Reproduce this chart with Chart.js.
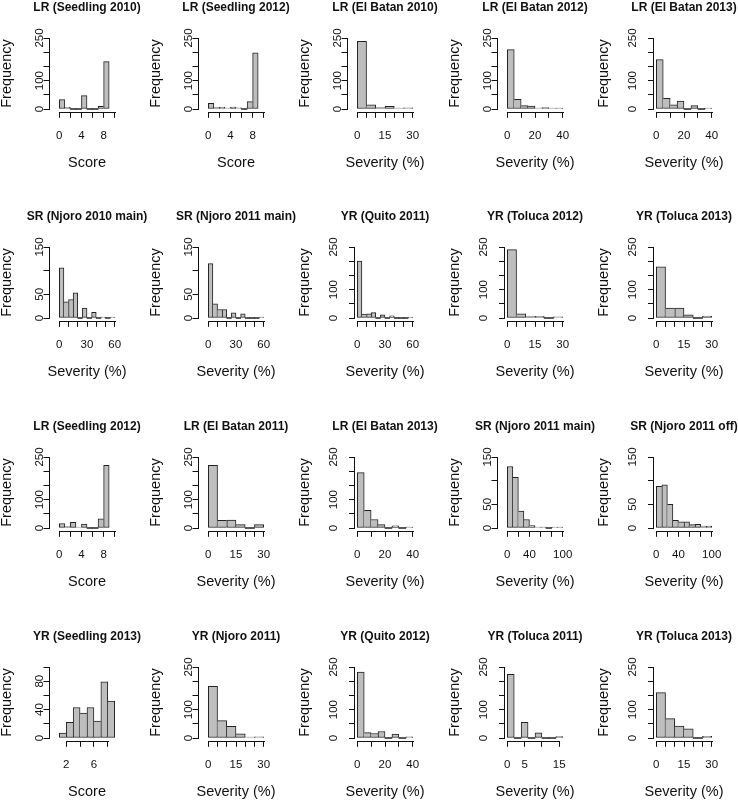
<!DOCTYPE html>
<html>
<head>
<meta charset="utf-8">
<title>Disease score histograms</title>
<script src="https://cdn.jsdelivr.net/npm/chart.js@4.4.1/dist/chart.umd.min.js"></script>
<style>
  html, body { margin: 0; padding: 0; background: #fff; overflow: hidden; }
  #grid { position: relative; width: 738px; height: 800px; overflow: hidden; }
  #grid canvas { position: absolute; }
</style>
</head>
<body>
<div id="grid"></div>
<script>
// counts per bin
const lrSeedling2010 = [33, 6, 0, 0, 47, 0, 0, 9, 167];
const lrSeedling2012a = [20, 6, 6, 3, 7, 4, 0, 26, 198];
const lrElBatan2010 = [238, 15, 5, 9, 2, 4];
const lrElBatan2012 = [209, 34, 12, 10, 1, 5, 1, 1];
const lrElBatan2013a = [174, 38, 15, 28, 0, 12, 0, 3];
const srNjoro2010Main = [106, 34, 39, 53, 0, 21, 0, 12, 0, 2, 0, 1];
const srNjoro2011MainA = [115, 30, 18, 18, 0, 11, 0, 9, 0, 0, 0, 2];
const yrQuito2011 = [200, 14, 15, 19, 0, 11, 0, 8, 0, 0, 0, 3];
const yrToluca2012 = [241, 15, 6, 6, 0, 4];
const yrToluca2013a = [180, 35, 35, 11, 0, 7];
const lrSeedling2012b = [16, 5, 20, 2, 14, 0, 0, 32, 221];
const lrElBatan2011 = [221, 27, 28, 12, 0, 12];
const lrElBatan2013b = [195, 62, 30, 12, 0, 8, 0, 3];
const srNjoro2011MainB = [130, 107, 36, 18, 5, 1, 1, 0, 1, 1];
const srNjoro2011Off = [88, 91, 50, 16, 13, 13, 7, 8, 4, 4];
const yrSeedling2013 = [7, 22, 43, 35, 43, 24, 79, 52];
const yrNjoro2011 = [182, 61, 41, 15, 1, 4];
const yrQuito2012 = [232, 19, 16, 23, 0, 14, 0, 4];
const yrToluca2011 = [224, 0, 55, 0, 18, 0, 0, 5];
const yrToluca2013b = [160, 68, 42, 32, 0, 6];

const titles = [
  'LR (Seedling 2010)', 'LR (Seedling 2012)', 'LR (El Batan 2010)', 'LR (El Batan 2012)', 'LR (El Batan 2013)',
  'SR (Njoro 2010 main)', 'SR (Njoro 2011 main)', 'YR (Quito 2011)', 'YR (Toluca 2012)', 'YR (Toluca 2013)',
  'LR (Seedling 2012)', 'LR (El Batan 2011)', 'LR (El Batan 2013)', 'SR (Njoro 2011 main)', 'SR (Njoro 2011 off)',
  'YR (Seedling 2013)', 'YR (Njoro 2011)', 'YR (Quito 2012)', 'YR (Toluca 2011)', 'YR (Toluca 2013)'
];
const counts = [
  lrSeedling2010, lrSeedling2012a, lrElBatan2010, lrElBatan2012, lrElBatan2013a,
  srNjoro2010Main, srNjoro2011MainA, yrQuito2011, yrToluca2012, yrToluca2013a,
  lrSeedling2012b, lrElBatan2011, lrElBatan2013b, srNjoro2011MainB, srNjoro2011Off,
  yrSeedling2013, yrNjoro2011, yrQuito2012, yrToluca2011, yrToluca2013b
];
const binStart = [0, 0, 0, 0, 0, 0, 0, 0, 0, 0, 0, 0, 0, 0, 0, 1, 0, 0, 0, 0];
const binWidth = [1, 1, 5, 5, 5, 5, 5, 5, 5, 5, 1, 5, 5, 10, 10, 1, 5, 5, 2, 5];
const xLow = [0, 0, 0, 0, 0, 0, 0, 0, 0, 0, 0, 0, 0, 0, 0, 1, 0, 0, 0, 0];
const xHigh = [10, 10, 30, 40, 40, 60, 60, 60, 30, 30, 10, 30, 40, 100, 100, 9, 30, 40, 16, 30];

// tick positions and the labels R kept
const scoreTicks = [0, 2, 4, 6, 8, 10];
const scoreLabels = [0, 4, 8];
const score13Ticks = [2, 4, 6, 8];
const score13Labels = [2, 6];
const sev30Ticks = [0, 5, 10, 15, 20, 25, 30];
const sev30Labels = [0, 15, 30];
const sev40Ticks = [0, 10, 20, 30, 40];
const sev40Labels = [0, 20, 40];
const sev60Ticks = [0, 10, 20, 30, 40, 50, 60];
const sev60Labels = [0, 30, 60];
const sev100Ticks = [0, 20, 40, 60, 80, 100];
const sev100Labels = [0, 40, 100];
const sev16Ticks = [0, 5, 10, 15];
const sev16Labels = [0, 5, 15];
const freq250Ticks = [0, 50, 100, 150, 200, 250];
const freq250Labels = [0, 100, 250];
const freq150Ticks = [0, 50, 100, 150];
const freq150Labels = [0, 50, 150];
const freq100Ticks = [0, 20, 40, 60, 80, 100];
const freq100Labels = [0, 40, 80];

const xTickSets = [
  scoreTicks, scoreTicks, sev30Ticks, sev40Ticks, sev40Ticks,
  sev60Ticks, sev60Ticks, sev60Ticks, sev30Ticks, sev30Ticks,
  scoreTicks, sev30Ticks, sev40Ticks, sev100Ticks, sev100Ticks,
  score13Ticks, sev30Ticks, sev40Ticks, sev16Ticks, sev30Ticks
];
const xLabelSets = [
  scoreLabels, scoreLabels, sev30Labels, sev40Labels, sev40Labels,
  sev60Labels, sev60Labels, sev60Labels, sev30Labels, sev30Labels,
  scoreLabels, sev30Labels, sev40Labels, sev100Labels, sev100Labels,
  score13Labels, sev30Labels, sev40Labels, sev16Labels, sev30Labels
];
const yMax = [250, 250, 250, 250, 250, 150, 150, 250, 250, 250, 250, 250, 250, 150, 150, 100, 250, 250, 250, 250];
const yTickSets = yMax.map(m => m === 250 ? freq250Ticks : m === 150 ? freq150Ticks : freq100Ticks);
const yLabelSets = yMax.map(m => m === 250 ? freq250Labels : m === 150 ? freq150Labels : freq100Labels);
const xTitles = titles.map(t => t.includes('Seedling') ? 'Score' : 'Severity (%)');

// layout: where the y axis sits in each panel (1 = detached from the bars)
const axisGap = [1, 1, 1, 1, 0, 1, 1, 0, 0, 0, 1, 1, 0, 1, 0, 1, 1, 0, 0, 0];
const colLeft = [0, 149, 298, 448, 597];
const rowTop = [-7, 202, 412, 622];
const W = 174, H = 210;
const DATA_L = 59.3, DATA_R = 114.7, MID = 87;

const FONT = '"Liberation Sans", Arial, Helvetica, sans-serif';
Chart.defaults.font.family = FONT;
Chart.defaults.color = '#111';
Chart.defaults.animation = false;

// R style axes: lines only between first and last tick, rotated y labels, x title
const rAxes = {
  id: 'rAxes',
  afterDraw(chart, args, opts) {
    const { ctx, chartArea, scales: { x, y } } = chart;
    const xt = x.ticks.map(t => t.value);
    const yt = y.ticks.map(t => t.value);
    ctx.save();
    ctx.strokeStyle = '#111';
    ctx.lineWidth = 1;
    ctx.beginPath();
    const xb = Math.round(chartArea.bottom) + 0.5;
    ctx.moveTo(Math.round(x.getPixelForValue(xt[0])), xb);
    ctx.lineTo(Math.round(x.getPixelForValue(xt[xt.length - 1])) + 1, xb);
    const yl = Math.round(chartArea.left) - 0.5;
    ctx.moveTo(yl, Math.round(y.getPixelForValue(yt[0])) + 1);
    ctx.lineTo(yl, Math.round(y.getPixelForValue(yt[yt.length - 1])));
    ctx.stroke();
    ctx.fillStyle = '#111';
    ctx.font = '11.5px ' + FONT;
    ctx.textAlign = 'center';
    ctx.textBaseline = 'middle';
    opts.labels.forEach(v => {
      ctx.save();
      ctx.translate(chartArea.left - opts.labelOffset, y.getPixelForValue(v));
      ctx.rotate(-Math.PI / 2);
      ctx.fillText(String(v), 0, 0);
      ctx.restore();
    });
    ctx.font = '14.5px ' + FONT;
    ctx.fillText(opts.xTitle, (chartArea.left + chartArea.right) / 2, 169.8);
    ctx.restore();
  }
};

const grid = document.getElementById('grid');

titles.forEach((title, k) => {
  const canvas = document.createElement('canvas');
  canvas.width = W;
  canvas.height = H;
  canvas.style.left = colLeft[k % 5] + 'px';
  canvas.style.top = rowTop[Math.floor(k / 5)] + 'px';
  grid.appendChild(canvas);

  const axisX = axisGap[k] ? 49.5 : 57;
  const right = 2 * MID - axisX;
  const ppu = (DATA_R - DATA_L) / (xHigh[k] - xLow[k]);
  const xMin = xLow[k] - (DATA_L - axisX) / ppu;
  const xMax = xHigh[k] + (right - DATA_R) / ppu;
  const xTicks = xTickSets[k], xLabels = xLabelSets[k];
  const yTicks = yTickSets[k];
  const top = yMax[k];

  const bins = counts[k].map((c, i) => ({ x: binStart[k] + (i + 0.5) * binWidth[k], y: c }));

  new Chart(canvas, {
    type: 'bar',
    data: {
      datasets: [{
        data: bins,
        backgroundColor: c => (c.raw && c.raw.y === 0 ? '#222' : '#bebebe'),
        borderColor: '#222',
        borderSkipped: false,
        borderWidth: c => {
          const d = c.dataset.data, i = c.dataIndex, v = d[i].y;
          if (v === 0) return 0;
          const prev = i > 0 ? d[i - 1].y : -1;
          const next = i < d.length - 1 ? d[i + 1].y : -1;
          return { top: 1, bottom: 1, left: prev <= v ? 1 : 0, right: next < v ? 1 : 0 };
        },
        minBarLength: 1,
        barPercentage: 1,
        categoryPercentage: 1
      }]
    },
    options: {
      responsive: false,
      devicePixelRatio: 1,
      events: [],
      layout: { padding: 0 },
      plugins: {
        legend: { display: false },
        tooltip: { enabled: false },
        title: {
          display: true,
          text: title,
          color: '#111',
          font: { size: 12, weight: 'bold' },
          padding: { top: 7.1, bottom: 20.66 }
        },
        rAxes: { labels: yLabelSets[k], xTitle: xTitles[k], labelOffset: axisGap[k] ? 10 : 21 }
      },
      scales: {
        x: {
          type: 'linear',
          min: xMin,
          max: xMax,
          bounds: 'data',
          offset: false,
          afterBuildTicks: s => { s.ticks = xTicks.map(v => ({ value: v })); },
          afterFit: s => { s.height = H - 118.84; },
          ticks: {
            autoSkip: false,
            maxRotation: 0,
            padding: 10.7,
            color: '#111',
            font: { size: 11.5 },
            callback: v => (xLabels.includes(v) ? String(v) : '')
          },
          grid: { offset: false, drawOnChartArea: false, drawTicks: true, tickLength: 6, color: '#111', lineWidth: 1 },
          border: { display: false }
        },
        y: {
          type: 'linear',
          min: -0.04 * top,
          max: 1.04 * top,
          bounds: 'data',
          afterBuildTicks: s => { s.ticks = yTicks.map(v => ({ value: v })); },
          afterFit: s => { s.width = axisX; },
          ticks: { display: false },
          grid: { drawOnChartArea: false, drawTicks: true, tickLength: 6, color: '#111', lineWidth: 1 },
          border: { display: false },
          title: {
            display: true,
            text: 'Frequency',
            color: '#111',
            font: { size: 14.5, lineHeight: 1 },
            padding: 0
          }
        },
        // empty right margin so the plot region is centred in the canvas
        margin: {
          type: 'linear',
          position: 'right',
          display: true,
          afterFit: s => { s.width = W - right; },
          ticks: { display: false },
          grid: { display: false },
          border: { display: false }
        }
      }
    },
    plugins: [rAxes]
  });
});
</script>
</body>
</html>
